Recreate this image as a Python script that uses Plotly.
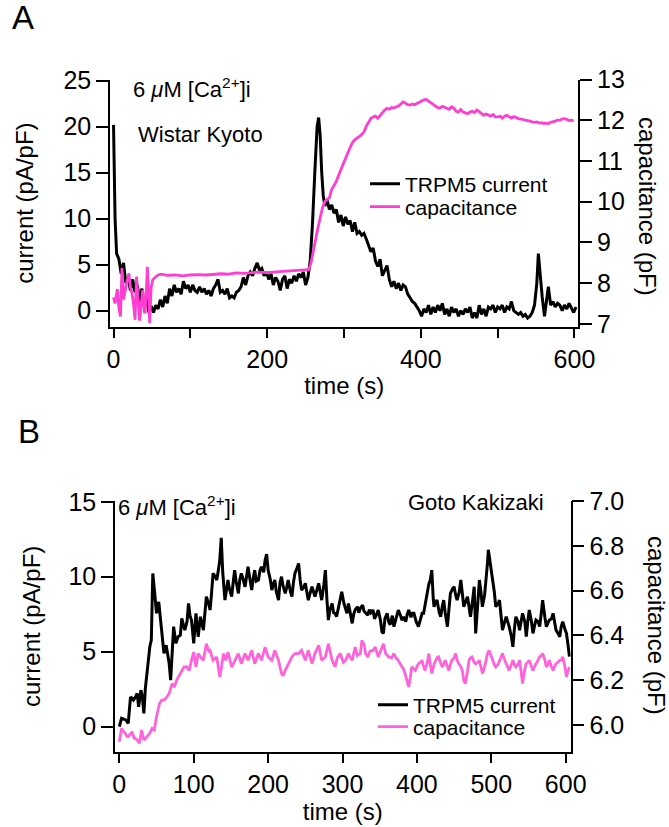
import plotly.graph_objects as go

# ---------------- Panel A (Wistar Kyoto) ----------------
time_a_cur = [0, 2, 4, 7, 10, 13, 16, 19, 22, 25, 28, 31, 34, 37, 40, 43, 46, 49, 52, 55, 58, 61, 64, 67, 70,
              73, 76, 79, 82, 85, 88, 91, 94, 97, 100, 103, 106, 109, 112, 115, 118, 121, 124, 127, 130, 133,
              136, 139, 142, 145, 148, 151, 154, 157, 160, 163, 166, 169, 172, 175, 178, 181, 184, 187, 190,
              193, 196, 199, 202, 205, 208, 211, 214, 217, 220, 223, 226, 229, 232, 235, 238, 241, 244, 247,
              250, 253, 256, 259, 262, 265, 267, 269, 271, 273, 275, 278, 281, 284, 287, 290, 293, 296, 299,
              302, 305, 308, 311, 314, 317, 320, 323, 326, 329, 332, 335, 338, 341, 344, 347, 350, 353, 356,
              359, 362, 365, 368, 371, 374, 377, 380, 383, 386, 389, 392, 395, 398, 401, 404, 407, 410, 413,
              416, 419, 422, 425, 428, 431, 434, 437, 440, 443, 446, 449, 452, 455, 458, 461, 464, 467, 470,
              473, 476, 479, 482, 485, 488, 491, 494, 497, 500, 503, 506, 509, 512, 515, 518, 521, 524, 527,
              530, 533, 536, 539, 542, 545, 548, 551, 553, 555, 558, 561, 564, 566, 569, 572, 575, 578, 581,
              584, 587, 590, 593, 596, 599, 602]
current_a = [20.2, 10.0, 6.2, 5.6, 4.0, 5.2, 3.0, 3.6, 2.2, 3.4, 2.0, 2.8, 1.0, 2.4, 0.6, 1.6, -0.2, 0.5, -0.2,
             0.6, 0.2, 1.2, 0.4, 1.6, 0.8, 2.4, 1.6, 2.8, 2.0, 2.4, 1.8, 3.2, 2.4, 2.8, 2.0, 2.8, 2.2, 2.0,
             2.6, 2.0, 2.4, 1.8, 2.2, 1.6, 2.4, 2.8, 3.4, 2.0, 2.2, 1.8, 2.4, 1.4, 1.6, 1.4, 2.0, 2.2, 2.6,
             3.6, 2.8, 3.8, 4.2, 3.8, 4.6, 5.2, 4.4, 4.6, 3.8, 4.2, 3.4, 4.0, 2.8, 3.6, 3.2, 2.2, 3.4, 3.8,
             2.4, 3.4, 3.0, 3.8, 3.2, 4.0, 3.6, 4.2, 2.8, 3.6, 5.4, 9.5, 15.0, 20.0, 21.0, 19.0, 15.0, 12.5,
             11.4, 12.0, 11.0, 11.5, 10.6, 11.0, 9.6, 10.4, 9.2, 10.2, 9.4, 9.8, 8.6, 9.6, 8.4, 8.6, 8.2, 8.4,
             7.8, 7.2, 6.4, 6.8, 5.4, 4.8, 5.6, 3.8, 4.4, 4.9, 3.4, 2.6, 3.2, 2.4, 3.0, 2.2, 2.8, 2.6, 1.8,
             1.4, 1.0, 0.8, 0.4, 0.0, -0.6, 0.2, -0.2, 0.6, -0.4, 0.4, -0.2, 0.6, 0.0, 0.8, -0.4, 0.2, -0.6,
             0.4, -0.2, 0.2, -0.6, 0.0, -0.4, 0.2, -0.2, 0.4, -0.8, -0.2, -0.8, 0.6, -0.4, 0.2, -0.6, 0.4, 0.2,
             0.6, -0.2, 0.4, 0.2, 0.6, -0.2, 0.4, 0.2, 1.0, 0.0, -0.2, -0.4, -0.2, -0.6, -0.4, -0.8, -0.6,
             -0.2, 0.6, 3.0, 6.2, 4.0, 1.5, -0.6, 1.5, 2.6, 0.6, 1.0, 0.4, 0.8, 0.6, 0.0, 0.6, 0.2, 0.8, 0.2,
             -0.2, 0.4]

time_a_cap = [0, 2, 5, 7, 9, 11, 13, 15, 17, 20, 22, 24, 26, 28, 30, 32, 34, 36, 38, 40, 41, 43, 44, 46, 47,
              49, 51, 54, 58, 62, 70, 80, 90, 100, 110, 120, 130, 140, 150, 160, 170, 180, 190, 200, 210, 220,
              230, 240, 250, 254, 257, 260, 263, 266, 269, 272, 275, 278, 281, 284, 287, 290, 293, 296, 299,
              302, 305, 308, 311, 314, 317, 320, 323, 326, 329, 332, 335, 338, 341, 344, 347, 350, 353, 356,
              359, 362, 365, 368, 371, 374, 377, 380, 383, 386, 389, 392, 395, 398, 401, 404, 407, 410, 413,
              416, 419, 422, 425, 428, 431, 434, 437, 440, 443, 446, 449, 452, 455, 458, 461, 464, 467, 470,
              473, 476, 479, 482, 485, 488, 491, 494, 497, 500, 503, 506, 509, 512, 515, 518, 521, 524, 527,
              530, 533, 536, 539, 542, 545, 548, 551, 554, 557, 560, 563, 566, 569, 572, 575, 578, 581, 584,
              587, 590, 593, 596, 599]
cap_a = [7.65, 7.5, 7.85, 7.4, 7.18, 8.37, 7.6, 7.83, 8.0, 8.24, 7.9, 7.75, 7.5, 7.1, 8.16, 7.6, 7.08, 7.5,
         7.83, 7.3, 7.26, 7.9, 8.4, 7.6, 7.02, 7.9, 8.08, 8.14, 8.2, 8.22, 8.19, 8.2, 8.18, 8.2, 8.21, 8.2,
         8.22, 8.23, 8.22, 8.25, 8.24, 8.26, 8.27, 8.26, 8.28, 8.29, 8.3, 8.31, 8.32, 8.33, 8.49, 8.8, 9.1,
         9.35, 9.6, 9.85, 10.0, 10.05, 10.1, 10.3, 10.4, 10.5, 10.65, 10.8, 10.94, 11.05, 11.2, 11.33, 11.45,
         11.52, 11.55, 11.6, 11.65, 11.71, 11.85, 11.95, 12.05, 12.08, 12.1, 12.05, 12.12, 12.2, 12.25, 12.29,
         12.27, 12.31, 12.3, 12.33, 12.35, 12.4, 12.45, 12.42, 12.38, 12.37, 12.4, 12.38, 12.41, 12.44, 12.48,
         12.5, 12.51, 12.47, 12.41, 12.38, 12.33, 12.31, 12.3, 12.34, 12.32, 12.29, 12.27, 12.33, 12.3, 12.22,
         12.2, 12.26, 12.2, 12.18, 12.16, 12.2, 12.22, 12.19, 12.25, 12.21, 12.17, 12.12, 12.15, 12.12, 12.1,
         12.14, 12.08, 12.08, 12.1, 12.05, 12.1, 12.12, 12.08, 12.05, 12.09, 12.06, 12.04, 12.03, 12.02, 12.0,
         12.0, 11.98, 11.96, 11.95, 11.96, 11.93, 11.94, 11.92, 11.93, 11.92, 11.95, 11.96, 11.98, 12.0, 12.0,
         12.03, 12.04, 12.02, 11.99, 12.0, 11.98]

# ---------------- Panel B (Goto Kakizaki) ----------------
time_b_cur = [0, 3, 6, 9, 12, 15, 17, 19, 22, 24, 26, 29, 31, 33, 35, 38, 41, 43, 45, 48, 50, 53, 56, 60, 63,
              67, 69, 71, 73, 76, 79, 82, 84, 86, 88, 91, 93, 95, 97, 100, 103, 106, 109, 113, 115, 117, 120,
              122, 124, 126, 129, 131, 133, 135, 137, 139, 142, 144, 146, 148, 151, 153, 155, 157, 160, 162,
              164, 166, 169, 171, 173, 175, 178, 180, 182, 184, 187, 189, 191, 194, 196, 198, 200, 203, 205,
              207, 209, 211, 214, 216, 218, 220, 223, 225, 227, 230, 232, 234, 236, 239, 241, 243, 245, 248,
              250, 252, 254, 257, 259, 261, 263, 266, 268, 270, 272, 275, 277, 279, 281, 283, 286, 288, 290,
              292, 295, 297, 299, 302, 304, 306, 308, 311, 313, 315, 317, 320, 322, 324, 327, 329, 331, 334,
              336, 338, 341, 343, 346, 348, 351, 353, 355, 357, 360, 362, 364, 367, 369, 372, 375, 378, 380,
              382, 385, 387, 389, 392, 394, 396, 399, 402, 405, 407, 409, 411, 414, 416, 418, 420, 422, 423,
              425, 427, 430, 432, 434, 436, 438, 441, 443, 445, 448, 450, 452, 454, 457, 459, 461, 463, 466,
              468, 470, 472, 475, 477, 479, 482, 484, 486, 488, 491, 493, 495, 496, 498, 500, 502, 504, 506,
              509, 511, 513, 515, 518, 520, 522, 524, 527, 529, 531, 533, 536, 538, 540, 542, 545, 547, 549,
              551, 554, 556, 558, 560, 563, 565, 567, 569, 572, 574, 576, 578, 581, 583, 585, 587, 590, 592,
              594, 596, 599, 601, 603, 605]
current_b = [0.0, 0.56, 0.5, 0.44, 0.22, 1.98, 1.9, 1.78, 2.0, 2.22, 1.33, 2.44, 2.0, 0.89, 2.56, 4.22, 5.33,
             5.78, 10.22, 8.67, 7.56, 8.33, 6.67, 4.89, 5.44, 4.22, 3.11, 5.33, 6.67, 5.56, 6.0, 6.1, 7.22,
             6.8, 6.44, 7.0, 8.22, 7.4, 7.11, 5.56, 7.56, 6.0, 7.33, 6.44, 7.6, 8.67, 8.2, 7.78, 8.9, 10.22,
             10.0, 9.78, 10.4, 11.11, 12.6, 10.3, 8.44, 9.0, 9.78, 9.2, 8.67, 9.6, 10.44, 9.7, 8.89, 9.8,
             10.22, 9.9, 9.33, 10.0, 10.67, 10.0, 9.11, 9.9, 10.44, 9.7, 9.78, 10.4, 10.67, 10.3, 11.11, 11.5,
             10.44, 9.8, 9.11, 9.5, 9.78, 9.0, 8.44, 9.6, 10.0, 9.4, 8.89, 9.3, 9.78, 9.0, 8.67, 9.6, 10.22,
             10.6, 10.89, 9.8, 9.11, 9.3, 9.56, 9.0, 8.44, 9.0, 9.33, 9.0, 8.67, 9.2, 9.56, 9.0, 8.44, 9.5,
             10.44, 8.5, 7.11, 7.78, 8.22, 7.6, 7.56, 7.33, 8.0, 8.5, 9.0, 8.2, 7.78, 7.56, 8.22, 7.4, 6.89,
             7.5, 7.78, 8.0, 7.6, 7.9, 8.11, 7.7, 7.6, 7.44, 7.8, 7.6, 7.78, 7.2, 7.5, 7.78, 7.1, 6.33, 6.22,
             7.2, 7.56, 7.0, 6.8, 7.4, 6.67, 7.2, 7.78, 7.4, 7.1, 7.33, 7.0, 7.5, 7.78, 7.3, 7.56, 7.56, 7.0,
             6.67, 7.2, 7.56, 7.56, 8.2, 8.89, 9.5, 9.78, 10.44, 8.5, 8.0, 8.3, 8.44, 7.6, 7.33, 8.0, 8.44,
             7.6, 6.67, 7.8, 8.89, 9.2, 9.33, 8.8, 8.44, 9.0, 9.78, 8.9, 8.0, 8.4, 8.67, 8.0, 7.33, 8.5, 9.33,
             6.22, 8.5, 9.78, 9.0, 8.0, 8.8, 9.78, 11.0, 11.8, 11.1, 10.3, 9.78, 9.0, 8.0, 8.2, 8.44, 7.5,
             6.44, 7.0, 7.33, 7.0, 6.67, 6.0, 5.33, 6.5, 7.33, 7.0, 6.44, 7.0, 7.56, 7.0, 6.0, 7.0, 7.78, 7.0,
             6.22, 6.7, 7.11, 7.0, 6.67, 7.5, 8.44, 7.3, 6.67, 6.9, 7.11, 7.2, 7.56, 7.0, 6.44, 6.2, 6.0, 6.7,
             7.0, 6.5, 6.22, 5.5, 4.67]

time_b_cap = [0, 3, 6, 8, 10, 12, 15, 17, 20, 22, 24, 27, 30, 33, 35, 37, 41, 44, 47, 50, 54, 57, 60, 64, 67,
              71, 74, 77, 81, 84, 87, 91, 94, 97, 100, 103, 106, 109, 113, 117, 120, 122, 126, 131, 135, 137,
              140, 143, 146, 151, 155, 160, 164, 169, 173, 178, 182, 187, 191, 196, 200, 205, 209, 214, 218,
              220, 223, 227, 232, 236, 241, 245, 250, 254, 259, 263, 268, 272, 277, 281, 286, 290, 293, 297,
              301, 304, 308, 310, 313, 317, 320, 324, 326, 329, 331, 334, 337, 341, 344, 348, 351, 355, 358,
              362, 366, 369, 372, 375, 378, 380, 382, 384, 387, 389, 391, 393, 396, 398, 400, 402, 405, 407,
              409, 411, 414, 416, 418, 420, 423, 425, 427, 429, 432, 434, 436, 438, 441, 443, 445, 447, 450,
              452, 454, 456, 459, 461, 463, 465, 468, 470, 472, 474, 477, 479, 482, 484, 486, 488, 491, 493,
              495, 497, 500, 502, 504, 506, 509, 511, 513, 515, 518, 520, 522, 524, 527, 529, 531, 533, 536,
              538, 540, 542, 545, 547, 549, 551, 554, 556, 558, 560, 563, 565, 567, 569, 572, 574, 576, 578,
              581, 583, 585, 587, 590, 592, 594, 596, 599, 601, 603, 605]
cap_b = [5.926, 5.985, 5.97, 5.963, 5.95, 5.948, 5.96, 5.97, 5.941, 5.94, 5.933, 5.919, 5.978, 5.933, 5.94,
         5.948, 5.963, 5.985, 5.978, 6.037, 6.096, 6.111, 6.111, 6.126, 6.141, 6.185, 6.17, 6.2, 6.222, 6.237,
         6.259, 6.259, 6.244, 6.289, 6.326, 6.259, 6.319, 6.304, 6.289, 6.363, 6.33, 6.333, 6.289, 6.304,
         6.215, 6.25, 6.319, 6.289, 6.326, 6.259, 6.289, 6.319, 6.274, 6.319, 6.289, 6.333, 6.274, 6.319,
         6.289, 6.348, 6.304, 6.289, 6.333, 6.289, 6.23, 6.22, 6.244, 6.274, 6.304, 6.319, 6.319, 6.333,
         6.289, 6.333, 6.274, 6.319, 6.356, 6.289, 6.304, 6.363, 6.289, 6.26, 6.3, 6.319, 6.28, 6.289, 6.319,
         6.304, 6.289, 6.348, 6.31, 6.319, 6.378, 6.36, 6.319, 6.304, 6.33, 6.333, 6.348, 6.304, 6.33, 6.363,
         6.319, 6.304, 6.3, 6.319, 6.3, 6.289, 6.27, 6.259, 6.25, 6.23, 6.2, 6.17, 6.21, 6.259, 6.25, 6.244,
         6.26, 6.274, 6.28, 6.289, 6.26, 6.244, 6.28, 6.319, 6.27, 6.23, 6.27, 6.289, 6.3, 6.304, 6.27, 6.259,
         6.27, 6.289, 6.26, 6.244, 6.27, 6.289, 6.3, 6.319, 6.29, 6.274, 6.26, 6.244, 6.2, 6.185, 6.24, 6.289,
         6.3, 6.304, 6.28, 6.274, 6.28, 6.289, 6.26, 6.23, 6.26, 6.289, 6.32, 6.333, 6.31, 6.289, 6.27, 6.259,
         6.27, 6.289, 6.3, 6.319, 6.29, 6.274, 6.26, 6.244, 6.27, 6.289, 6.27, 6.259, 6.27, 6.289, 6.24, 6.185,
         6.25, 6.274, 6.28, 6.289, 6.26, 6.244, 6.26, 6.274, 6.29, 6.304, 6.31, 6.319, 6.29, 6.259, 6.27,
         6.289, 6.26, 6.244, 6.26, 6.274, 6.28, 6.289, 6.29, 6.304, 6.26, 6.215, 6.24, 6.259]

# tick positions / labels
xticks_a = [0, 200, 400, 600]
xminor_a = [100, 300, 500]
xticks_b = [0, 100, 200, 300, 400, 500, 600]
yticks_cur_a = [0, 5, 10, 15, 20, 25]
yticks_cap_a = [7, 8, 9, 10, 11, 12, 13]
yticks_cur_b = [0, 5, 10, 15]
yticks_cap_b = [6.0, 6.2, 6.4, 6.6, 6.8, 7.0]

W, H = 669, 827
FONT = "Liberation Sans, Arial, Helvetica, sans-serif"
BLACK = "#000000"
PINK_A = "#ff3dd2"
PINK_B = "#ff63dc"


def px_x(p):
    return p / W


def px_y(p):
    return 1 - p / H


fig = go.Figure()
fig.add_trace(go.Scatter(x=time_a_cur, y=current_a, mode="lines", name="TRPM5 current",
                         line=dict(color=BLACK, width=3), xaxis="x", yaxis="y", legend="legend"))
fig.add_trace(go.Scatter(x=time_a_cap, y=cap_a, mode="lines", name="capacitance",
                         line=dict(color=PINK_A, width=2.8), xaxis="x", yaxis="y2", legend="legend2"))
fig.add_trace(go.Scatter(x=time_b_cur, y=current_b, mode="lines", name="TRPM5 current",
                         line=dict(color=BLACK, width=3), xaxis="x2", yaxis="y3", legend="legend3"))
fig.add_trace(go.Scatter(x=time_b_cap, y=cap_b, mode="lines", name="capacitance",
                         line=dict(color=PINK_B, width=2.8), xaxis="x2", yaxis="y4", legend="legend4"))

axis_common = dict(showline=True, linecolor=BLACK, linewidth=1.5, ticks="outside",
                   tickwidth=1.5, tickcolor=BLACK, showgrid=False, zeroline=False, automargin=False,
                   tickfont=dict(family=FONT, size=25, color=BLACK),
                   title_font=dict(family=FONT, size=24, color=BLACK))

dom_xa = [px_x(110), px_x(578.3)]
dom_ya = [px_y(326.7), px_y(79.5)]
dom_xb = [px_x(115), px_x(570.7)]
dom_yb = [px_y(751.7), px_y(501)]

leg_common = dict(xanchor="left", yanchor="middle", bgcolor="rgba(0,0,0,0)",
                  font=dict(family=FONT, size=21, color=BLACK), borderwidth=0)

fig.update_layout(
    width=W, height=H, margin=dict(l=0, r=0, t=0, b=0),
    paper_bgcolor="white", plot_bgcolor="rgba(0,0,0,0)",
    font=dict(family=FONT, size=22, color=BLACK),
    xaxis=dict(axis_common, domain=dom_xa, range=[-4.6, 605], tickvals=xticks_a, ticklen=10,
               minor=dict(tickvals=xminor_a, ticks="outside", ticklen=10, tickwidth=1.5, tickcolor=BLACK,
                          showgrid=False),
               anchor="y", title=dict(text="time (s)", standoff=5)),
    yaxis=dict(axis_common, domain=dom_ya, range=[-1.74, 25.13], tickvals=yticks_cur_a, anchor="x",
               ticklen=12, title=dict(text="current (pA/pF)", standoff=23)),
    yaxis2=dict(axis_common, domain=dom_ya, range=[6.93, 13.0], tickvals=yticks_cap_a, anchor="x",
                ticklen=12, overlaying="y", side="right"),
    xaxis2=dict(axis_common, domain=dom_xb, range=[-5.8, 606.7], tickvals=xticks_b, anchor="y3",
                ticklen=10, title=dict(text="time (s)", standoff=5)),
    yaxis3=dict(axis_common, domain=dom_yb, range=[-1.667, 15.05], tickvals=yticks_cur_b, anchor="x2",
                ticklen=12, title=dict(text="current (pA/pF)", standoff=21)),
    yaxis4=dict(axis_common, domain=dom_yb, range=[5.881, 7.0], tickvals=yticks_cap_b, tickformat=".1f",
                ticklen=12, anchor="x2", overlaying="y3", side="right"),
    legend=dict(leg_common, x=px_x(365), y=px_y(184)),
    legend2=dict(leg_common, x=px_x(365), y=px_y(207)),
    legend3=dict(leg_common, x=px_x(373), y=px_y(705)),
    legend4=dict(leg_common, x=px_x(373), y=px_y(727)),
    showlegend=True,
)

ann = [
    dict(text="A", x=px_x(10), y=px_y(18), xanchor="left", yanchor="middle", font=dict(size=33)),
    dict(text="B", x=px_x(16), y=px_y(431), xanchor="left", yanchor="middle", font=dict(size=33)),
    dict(text="6 <i>μ</i>M [Ca<sup>2+</sup>]i", x=px_x(131), y=px_y(88), xanchor="left", yanchor="middle",
         font=dict(size=22)),
    dict(text="Wistar Kyoto", x=px_x(136), y=px_y(134), xanchor="left", yanchor="middle", font=dict(size=22)),
    dict(text="6 <i>μ</i>M [Ca<sup>2+</sup>]i", x=px_x(116), y=px_y(506), xanchor="left", yanchor="middle",
         font=dict(size=22)),
    dict(text="Goto Kakizaki", x=px_x(546), y=px_y(502), xanchor="right", yanchor="middle", font=dict(size=22)),
    dict(text="capacitance (pF)", x=px_x(648), y=px_y(206), xanchor="center", yanchor="middle",
         textangle=90, font=dict(size=24)),
    dict(text="capacitance (pF)", x=px_x(657), y=px_y(625), xanchor="center", yanchor="middle",
         textangle=90, font=dict(size=24)),
]
for a in ann:
    a.update(xref="paper", yref="paper", showarrow=False)
    a["font"] = dict(family=FONT, color=BLACK, size=a["font"]["size"])
fig.update_layout(annotations=ann)

fig.write_html("out.html")
